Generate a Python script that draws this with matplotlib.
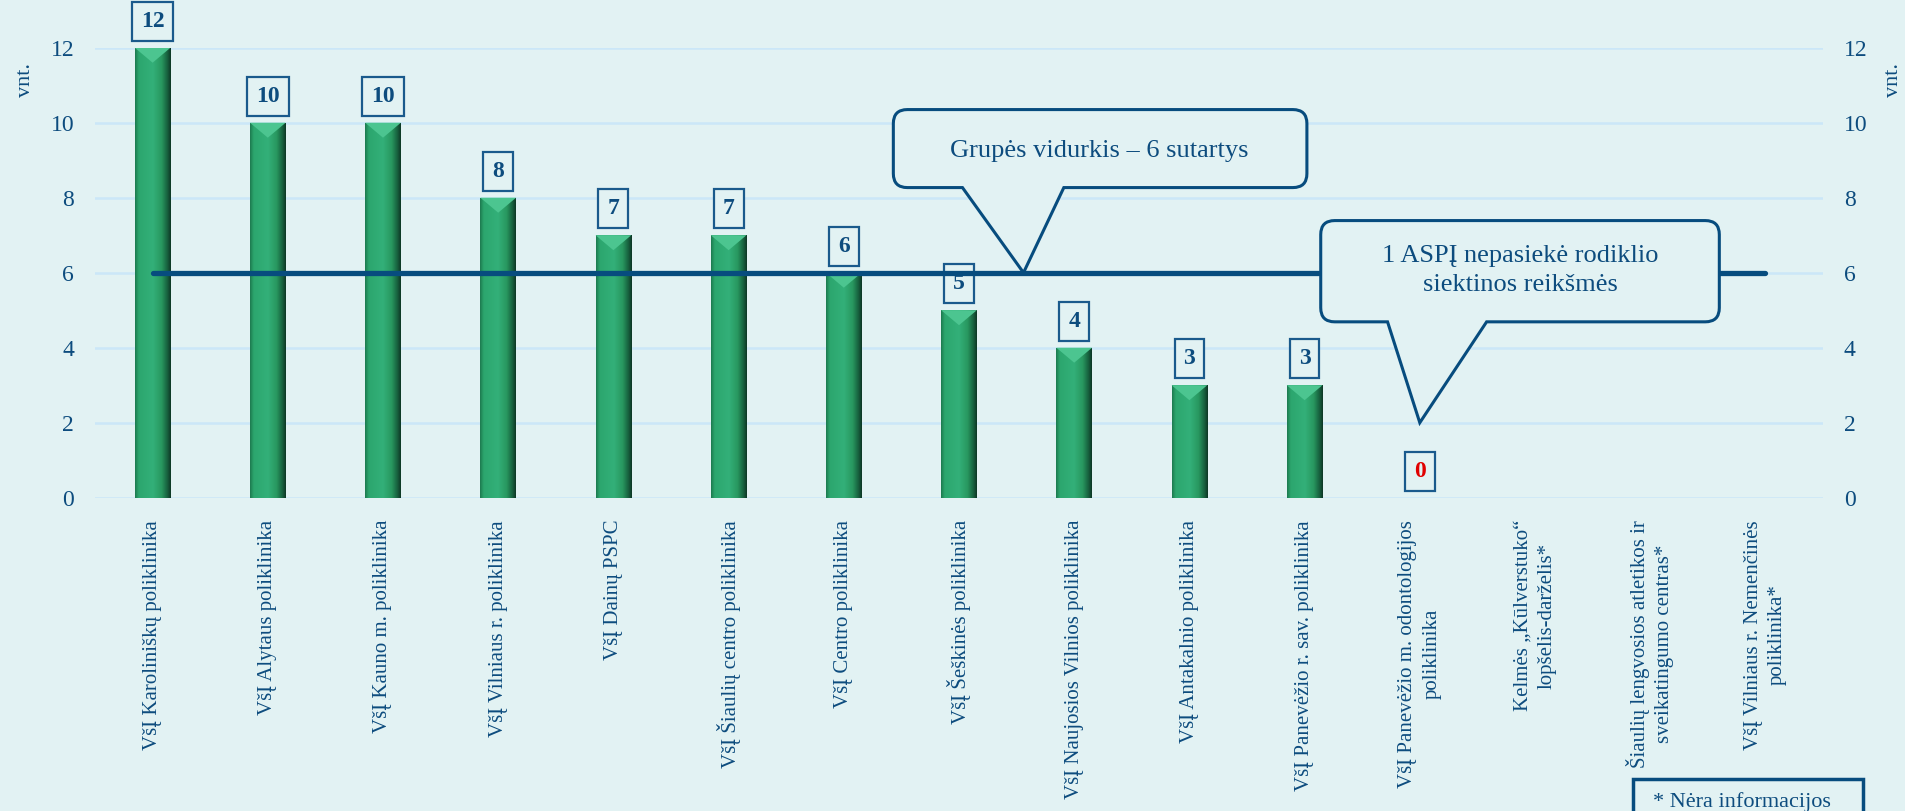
import numpy as np
import matplotlib
matplotlib.use("Agg")
import matplotlib.pyplot as plt
from matplotlib.path import Path
from matplotlib.patches import PathPatch, Polygon, Rectangle
from matplotlib.colors import LinearSegmentedColormap


# ---------------------- Data ---------------------- #
categories = [
    "VšĮ Karoliniškų poliklinika",
    "VšĮ Alytaus poliklinika",
    "VšĮ Kauno m. poliklinika",
    "VšĮ Vilniaus r. poliklinika",
    "VšĮ Dainų PSPC",
    "VšĮ Šiaulių centro poliklinika",
    "VšĮ Centro poliklinika",
    "VšĮ Šeškinės poliklinika",
    "VšĮ Naujosios Vilnios poliklinika",
    "VšĮ Antakalnio poliklinika",
    "VšĮ Panevėžio r. sav. poliklinika",
    "VšĮ Panevėžio m. odontologijos\npoliklinika",
    "Kelmės „Kūlverstuko“\nlopšelis-darželis*",
    "Šiaulių lengvosios atletikos ir\nsveikatingumo centras*",
    "VšĮ Vilniaus r. Nemenčinės\npoliklinika*",
]
values = [12, 10, 10, 8, 7, 7, 6, 5, 4, 3, 3, 0, None, None, None]
group_average = 6
y_ticks = [0, 2, 4, 6, 8, 10, 12]
unit_label = "vnt."
average_note = "Grupės vidurkis – 6 sutartys"
target_note = "1 ASPĮ nepasiekė rodiklio\nsiektinos reikšmės"
footnote = "* Nėra informacijos"

# colours
BG = "#E2F2F3"
GRID = "#CBE7F8"
TEXT = "#0D4C7E"
LINE = "#074C7E"
RED = "#E00000"

plt.rcParams["font.family"] = ["Liberation Serif", "DejaVu Serif"]

W, H = 1905, 811
fig = plt.figure(figsize=(W / 100, H / 100), dpi=100, facecolor=BG)
ax = fig.add_axes([95 / W, 1 - 497.7 / H, (1823 - 95) / W, 450 / H])
ax.set_facecolor(BG)


# ---------------------- Bars ---------------------- #
xs = [i for i, v in enumerate(values) if v is not None]
hs = [values[i] for i in xs]
bars = ax.bar(xs, hs, width=0.31, color="#2DA56F", zorder=2)

bar_cmap = LinearSegmentedColormap.from_list(
    "bar", [(0, "#1E7C50"), (0.1, "#2CA66E"), (0.5, "#33B079"),
            (0.75, "#28975F"), (0.92, "#165C3C"), (1, "#0E3826")])
shade = np.linspace(0, 1, 64).reshape(1, -1)
for b in bars:
    h = b.get_height()
    if h <= 0:
        continue
    x0, w = b.get_x(), b.get_width()
    im = ax.imshow(shade, cmap=bar_cmap, extent=(x0, x0 + w, 0, h),
                   aspect="auto", zorder=2.1)
    im.set_clip_path(b)
    # light bevel on the top
    ax.add_patch(Polygon([(x0, h), (x0 + w, h), (x0 + w / 2, h - 0.4)],
                         closed=True, facecolor="#4CC590", edgecolor="none",
                         zorder=2.2))

# value labels
for x, v in zip(xs, hs):
    ax.annotate(str(v), (x, v), xytext=(0, 19), textcoords="offset points",
                ha="center", va="center", fontsize=17, fontweight="bold",
                color=RED if v == 0 else TEXT, annotation_clip=False, zorder=3,
                bbox=dict(boxstyle="square,pad=0.38", facecolor=BG,
                          edgecolor="#1A5A8C", linewidth=1.6))

# group average line
ax.plot([0, len(categories) - 1], [group_average, group_average], color=LINE,
        linewidth=3.8, solid_capstyle="round", zorder=4)


# ---------------------- Axes ---------------------- #
ax.set_xlim(-0.5, len(categories) - 0.5)
ax.set_ylim(0, 12)
ax.set_yticks(y_ticks)
ax.yaxis.grid(True, color=GRID, linewidth=1.8)
ax.set_axisbelow(True)
for s in ax.spines.values():
    s.set_visible(False)
ax.tick_params(axis="y", labelsize=17, labelcolor=TEXT, length=0, pad=15,
               labelright=True)
ax.set_xticks(range(len(categories)))
ax.set_xticklabels(categories, rotation=90, fontsize=15, color=TEXT,
                   ha="center", va="top", multialignment="center",
                   linespacing=1.35)
ax.tick_params(axis="x", length=0, pad=16)

fig.text(25 / W, 1 - 80 / H, unit_label, rotation=90, ha="center",
         va="center", fontsize=16, color=TEXT)
fig.text(1893 / W, 1 - 80 / H, unit_label, rotation=90, ha="center",
         va="center", fontsize=16, color=TEXT)


# ---------------------- Callouts ---------------------- #
def speech_bubble(box, base, tip, radius=14):
    """ Rounded box with a pointer, built in pixels from data coordinates. """
    to_px = ax.transData.transform
    (l, b), (r, t) = to_px([(box[0], box[1]), (box[2], box[3])])
    bl = to_px((base[0], box[1]))[0]
    br = to_px((base[1], box[1]))[0]
    tx, ty = to_px(tip)
    R = radius
    verts = [(l + R, t), (r - R, t), (r, t), (r, t - R), (r, b + R),
             (r, b), (r - R, b), (br, b), (tx, ty), (bl, b), (l + R, b),
             (l, b), (l, b + R), (l, t - R), (l, t), (l + R, t), (l + R, t)]
    codes = [Path.MOVETO, Path.LINETO, Path.CURVE3, Path.CURVE3, Path.LINETO,
             Path.CURVE3, Path.CURVE3, Path.LINETO, Path.LINETO, Path.LINETO,
             Path.LINETO, Path.CURVE3, Path.CURVE3, Path.LINETO, Path.CURVE3,
             Path.CURVE3, Path.CLOSEPOLY]
    patch = PathPatch(Path(verts, codes), facecolor=BG, edgecolor=LINE,
                      linewidth=2.2, transform=matplotlib.transforms.IdentityTransform(),
                      clip_on=False, zorder=5)
    ax.add_patch(patch)


speech_bubble((6.43, 8.27, 10.02, 10.35), (7.03, 7.91), (7.56, group_average))
ax.text(8.22, 9.25, average_note, ha="center", va="center", fontsize=19,
        color=TEXT, zorder=6)

speech_bubble((10.14, 4.69, 13.60, 7.39), (10.72, 11.58), (11, 2))
ax.text(11.87, 6.05, target_note, ha="center", va="center", fontsize=19,
        color=TEXT, linespacing=1.4, zorder=6)

# footnote box
fig.add_artist(Rectangle((1633 / W, -0.05), 230 / W, 0.05 + 32 / H,
                         transform=fig.transFigure, fill=False,
                         edgecolor=LINE, linewidth=2.5))
fig.text(1653 / W, 4 / H, footnote, fontsize=16, va="baseline", color=TEXT)

fig.savefig("out.png", dpi=100, facecolor=BG)
